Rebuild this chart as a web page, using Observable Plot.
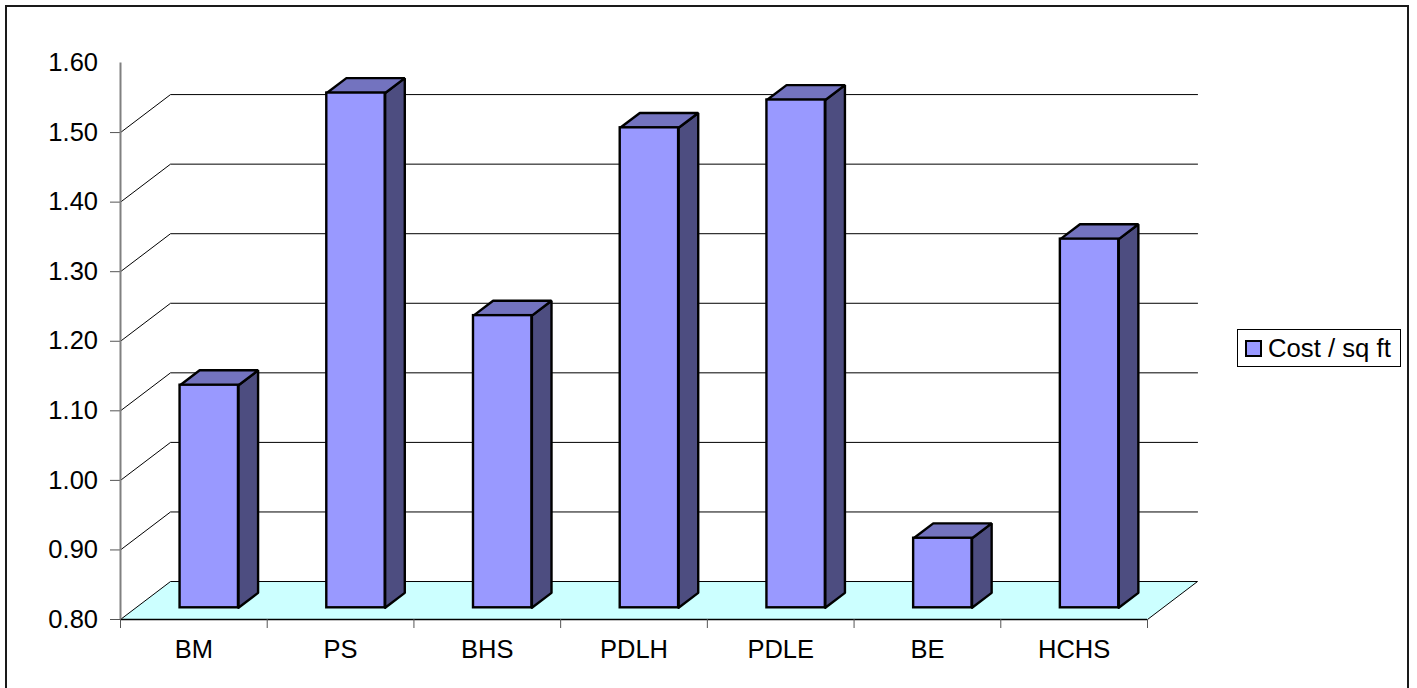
<!DOCTYPE html>
<html>
<head>
<meta charset="utf-8">
<script src="https://cdn.jsdelivr.net/npm/d3@7"></script>
<script src="https://cdn.jsdelivr.net/npm/@observablehq/plot@0.6"></script>
<style>
  html, body { margin: 0; padding: 0; background: #fff; }
  #chart { position: relative; width: 1417px; height: 688px; overflow: hidden; font-family: "Liberation Sans", Arial, sans-serif; }
  #frame { position: absolute; left: 5px; top: 5px; width: 1400px; height: 700px; border: 2px solid #1a1a1a; pointer-events: none; }
  #legend { position: absolute; left: 1237px; top: 329px; width: 164px; height: 38px; border: 1px solid #000; box-sizing: border-box; display: flex; align-items: center; background: #fff; font-size: 25.7px; color: #000; white-space: nowrap; }
  #legend i { display: block; width: 13px; height: 13px; margin: 0 6px 0 7px; border: 2px solid #000; background: #9999ff; }
  svg { position: absolute; left: 0; top: 0; }
</style>
</head>
<body>
<div id="chart">
  <div id="frame"></div>
  <div id="legend"><i></i><span>Cost / sq ft</span></div>
</div>
<script>
const categories = ["BM", "PS", "BHS", "PDLH", "PDLE", "BE", "HCHS"];
const costs = [1.12, 1.54, 1.22, 1.49, 1.53, 0.90, 1.33];
const yTicks = [0.8, 0.9, 1.0, 1.1, 1.2, 1.3, 1.4, 1.5, 1.6];
const wallLevels = [0.9, 1.0, 1.1, 1.2, 1.3, 1.4, 1.5];

// Oblique projection: depth d in [0, 1] shifts a point along x (categories) and y (value).
const baseValue = 0.8;
const depthX = 0.341;
const depthY = 0.0546;
const barWidth = 0.398;
const barFront = 0.308;
const barBack = 0.70;
const project = (u, v, d, id) => ({x: u + d * depthX, y: v + d * depthY, id});

const floor = [
  project(0, baseValue, 0), project(7, baseValue, 0),
  project(7, baseValue, 1), project(0, baseValue, 1), project(0, baseValue, 0)
];

const wall = wallLevels.flatMap((v) => [
  project(0, v, 0, v), project(0, v, 1, v), project(7, v, 1, v)
]);

const faces = (name) => categories.flatMap((c, i) => {
  const a = i + 0.5 - barWidth / 2;
  const b = a + barWidth;
  const v = costs[i];
  const id = `${c}-${name}`;
  if (name === "top") return [
    project(a, v, barFront, id), project(b, v, barFront, id),
    project(b, v, barBack, id), project(a, v, barBack, id), project(a, v, barFront, id)
  ];
  return [
    project(b, baseValue, barFront, id), project(b, v, barFront, id),
    project(b, v, barBack, id), project(b, baseValue, barBack, id), project(b, baseValue, barFront, id)
  ];
});

const fronts = categories.map((c, i) => {
  const a = project(i + 0.5 - barWidth / 2, baseValue, barFront);
  const b = project(i + 0.5 + barWidth / 2, costs[i], barFront);
  return {x1: a.x, x2: b.x, y1: a.y, y2: b.y};
});

const polygon = (data, fill) => Plot.line(data, {
  x: "x", y: "y", z: "id", fill, stroke: "#000", strokeWidth: 2.4,
  strokeLinejoin: "miter", curve: "linear"
});

const plot = Plot.plot({
  width: 1417,
  height: 688,
  marginLeft: 120,
  marginRight: 270,
  marginTop: 62.5,
  marginBottom: 69,
  style: {background: "transparent", fontFamily: '"Liberation Sans", Arial, sans-serif', fontSize: "25.5px", color: "#000", overflow: "visible"},
  x: {type: "linear", domain: [0, 7], range: [120, 1147]},
  y: {type: "linear", domain: [0.8, 1.6], range: [619, 62.5]},
  marks: [
    // Floor and back-wall grid
    Plot.line(floor, {x: "x", y: "y", fill: "#ccffff", stroke: "#000", strokeWidth: 1}),
    Plot.line(wall, {x: "x", y: "y", z: "id", stroke: "#000", strokeWidth: 1}),

    // Axis lines and ticks
    Plot.ruleY([0.8], {x1: 0, x2: 7, stroke: "#000", strokeWidth: 1.5}),
    Plot.axisY({ticks: yTicks.slice(0, -1), tickSize: 10, tickFormat: () => "", stroke: "#555"}),
    Plot.axisY({ticks: yTicks, tickSize: 0, tickPadding: 22.5, tickFormat: (d) => d.toFixed(2), fontSize: 25.5, textStroke: "none"}),
    Plot.axisX({ticks: d3.range(8), tickSize: 9, tickFormat: () => "", stroke: "#555"}),
    Plot.axisX({ticks: categories.map((c, i) => i + 0.5), tickSize: 0, tickPadding: 20, fontSize: 25.5,
      tickFormat: (d) => categories[Math.floor(d)]}),
    Plot.ruleX([0], {y1: 0.8, y2: 1.6, stroke: "#808080", strokeWidth: 2}),

    // Bars
    polygon(faces("side"), "#4d4d80"),
    polygon(faces("top"), "#7373bf"),
    Plot.rect(fronts, {x1: "x1", x2: "x2", y1: "y1", y2: "y2", fill: "#9999ff", stroke: "#000", strokeWidth: 2.4})
  ]
});
document.getElementById("chart").prepend(plot);
</script>
</body>
</html>
